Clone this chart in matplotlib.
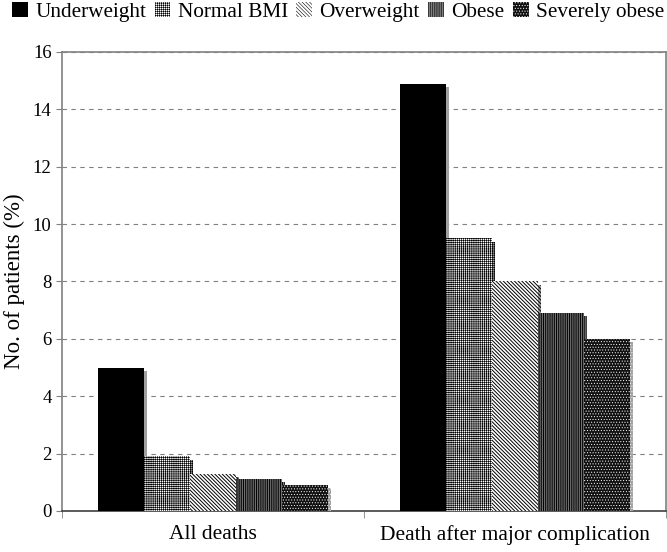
import numpy as np
import matplotlib.pyplot as plt
import matplotlib.patheffects as pe

plt.rcParams['font.family'] = ['Liberation Serif', 'DejaVu Serif']
plt.rcParams['font.size'] = 13.5

# data
groups = ['All deaths', 'Death after major complication']
series = ['Underweight', 'Normal BMI', 'Overweight', 'Obese', 'Severely obese']
underweight = [5.0, 14.9]
normal_bmi = [1.9, 9.5]
overweight = [1.3, 8.0]
obese = [1.1, 6.9]
severely_obese = [0.9, 6.0]
values = [underweight, normal_bmi, overweight, obese, severely_obese]

# fill styles: (face, hatch colour, hatch, hatch linewidth)
styles = [
    ('black', 'black', None, 0.7),
    ('white', 'black', '+' * 8, 0.45),
    ('white', 'black', '\\' * 9, 0.7),
    ('#808080', 'black', '|' * 9, 0.7),
    ('#111111', 'white', '.' * 6, 0.4),
]

fig = plt.figure(figsize=(6.67, 5.52), dpi=100)
ax = fig.add_axes([0.093, 0.0743, 0.9055, 0.8315])

x = np.arange(len(groups))
w = 0.1528
shadow = [pe.SimplePatchShadow(offset=(2.2, -2.2), shadow_rgbFace='#a0a0a0', alpha=1), pe.Normal()]
handles = []
for i, (name, vals) in enumerate(zip(series, values)):
    face, hcol, hatch, hlw = styles[i]
    plt.rcParams['hatch.linewidth'] = hlw
    bars = ax.bar(x + (i - 2) * w, vals, w, facecolor=face, edgecolor=hcol,
                  hatch=hatch, linewidth=0, label=name, zorder=3)
    for b in bars:
        b.set_path_effects(shadow)
    handles.append(bars)

ax.set_xlim(-0.5, 1.5)
ax.set_ylim(0, 16)
ax.set_yticks(np.arange(0, 17, 2))
ax.yaxis.grid(True, linestyle=(0, (4, 4)), color='#808080', linewidth=0.8)
ax.set_axisbelow(True)
ax.set_ylabel('No. of patients (%)', fontsize=16.5, labelpad=6)

ax.set_xticks(x)
ax.set_xticklabels(groups, fontsize=15.5)
ax.set_xticks([-0.5, 0.5, 1.5], minor=True)
ax.tick_params(axis='x', which='major', length=0, pad=10)
ax.tick_params(axis='x', which='minor', length=5, color='#808080', direction='out')
ax.tick_params(axis='y', length=4, color='#808080', direction='out', labelsize=13.5)

for s in ['left', 'top', 'right']:
    ax.spines[s].set_color('#808080')
    ax.spines[s].set_linewidth(1.2)
ax.spines['bottom'].set_color('#404040')
ax.spines['bottom'].set_linewidth(1.2)

leg = fig.legend(handles=handles, loc='upper center', bbox_to_anchor=(0.507, 1.012),
                 ncol=5, frameon=False, fontsize=15.3, handlelength=0.75, handleheight=0.75,
                 handletextpad=0.35, columnspacing=0.38, borderaxespad=0)
for h in leg.legend_handles:
    h.set_path_effects([])

fig.savefig('out.png', dpi=100)
